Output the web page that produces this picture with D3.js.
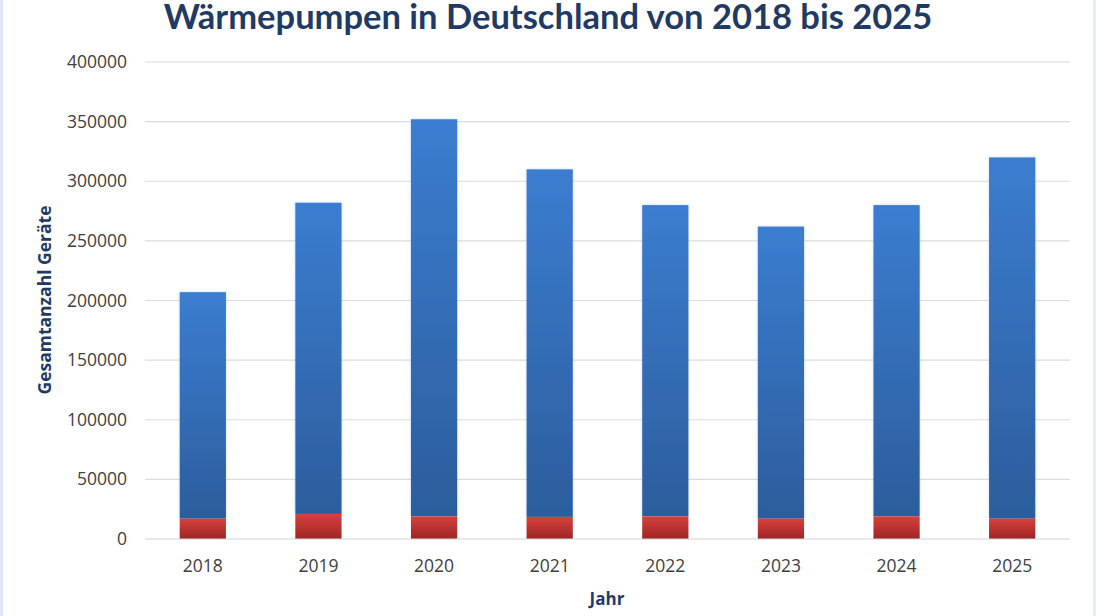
<!DOCTYPE html>
<html><head><meta charset="utf-8">
<script src="https://cdn.jsdelivr.net/npm/d3@7"></script>
<style>
html,body{margin:0;padding:0;background:#fff;}
svg{display:block;}
</style></head>
<body>
<script>
const years = ["2018","2019","2020","2021","2022","2023","2024","2025"];
const totals = [207000, 282000, 352000, 310000, 280000, 262000, 280000, 320000];
const lowerPart = [17000, 21000, 19000, 18500, 19000, 17000, 19000, 17000];
const yTicks = [0, 50000, 100000, 150000, 200000, 250000, 300000, 350000, 400000];
const titleText = "Wärmepumpen in Deutschland von 2018 bis 2025";
const yTitle = "Gesamtanzahl Geräte";
const xTitle = "Jahr";

const W = 1096, H = 616;
const svg = d3.select("body").append("svg").attr("width", W).attr("height", H);
const defs = svg.append("defs");
const gb = defs.append("linearGradient").attr("id","gBlue").attr("x1",0).attr("y1",0).attr("x2",0).attr("y2",1);
gb.append("stop").attr("offset","0%").attr("stop-color","#3b7dd0");
gb.append("stop").attr("offset","100%").attr("stop-color","#2c5d9c");
const gr = defs.append("linearGradient").attr("id","gRed").attr("x1",0).attr("y1",0).attr("x2",0).attr("y2",1);
gr.append("stop").attr("offset","0%").attr("stop-color","#d8403c");
gr.append("stop").attr("offset","100%").attr("stop-color","#9c2626");
const f = defs.append("filter").attr("id","glow").attr("x","-20%").attr("y","-20%").attr("width","140%").attr("height","140%");
f.append("feGaussianBlur").attr("in","SourceAlpha").attr("stdDeviation",1.5).attr("result","b");
f.append("feFlood").attr("flood-color","#9fc0ea").attr("flood-opacity",0.6);
f.append("feComposite").attr("in2","b").attr("operator","in").attr("result","s");
const fm = f.append("feMerge");
fm.append("feMergeNode").attr("in","s");
fm.append("feMergeNode").attr("in","SourceGraphic");

// frame edges
svg.append("rect").attr("x",0).attr("y",0).attr("width",3).attr("height",H).attr("fill","#dfe5f4");
svg.append("rect").attr("x",1093).attr("y",0).attr("width",3).attr("height",H).attr("fill","#e6eef0");

const x = d3.scaleBand().domain(years).range([145, 1070]).paddingInner(0.6).paddingOuter(0.3);
const y = d3.scaleLinear().domain([0, 400000]).range([539, 62]);

// gridlines
svg.append("g").selectAll("line").data(yTicks.filter(d => d > 0)).join("line")
  .attr("x1", 145).attr("x2", 1070)
  .attr("y1", d => y(d)).attr("y2", d => y(d))
  .attr("stroke", "#dcdcdc").attr("stroke-width", 1.2);

// y axis labels
const yAxis = d3.axisLeft(y).tickValues(yTicks).tickSize(0).tickPadding(0).tickFormat(d3.format("d"));
const gy = svg.append("g").attr("transform", "translate(127,0)").call(yAxis);
gy.select(".domain").remove();
gy.selectAll("text").attr("font-family","'Open Sans', sans-serif").attr("font-size", 17.5).attr("fill","#404040");

// bars
const bars = svg.append("g");
const stackData = years.map((yr, i) => ({ yr, total: totals[i], low: lowerPart[i] }));
bars.selectAll("rect.blue").data(stackData).join("rect").attr("class","blue")
  .attr("x", d => x(d.yr)).attr("width", x.bandwidth())
  .attr("y", d => y(d.total)).attr("height", d => y(d.low) - y(d.total))
  .attr("fill","url(#gBlue)").attr("filter","url(#glow)");
bars.selectAll("rect.red").data(stackData).join("rect").attr("class","red")
  .attr("x", d => x(d.yr)).attr("width", x.bandwidth())
  .attr("y", d => y(d.low)).attr("height", d => y(0) - y(d.low))
  .attr("fill","url(#gRed)");

// baseline
svg.append("line").attr("x1",145).attr("x2",1070).attr("y1",y(0)).attr("y2",y(0))
  .attr("stroke","#d0d4da").attr("stroke-width",1.2);

// x axis labels
const xAxis = d3.axisBottom(x).tickSize(0).tickPadding(0);
const gx = svg.append("g").attr("transform", `translate(0,${y(0)})`).call(xAxis);
gx.select(".domain").remove();
gx.selectAll("text").attr("font-family","'Open Sans', sans-serif").attr("font-size", 17.5).attr("fill","#404040")
  .attr("dy", null).attr("y", 33);

// titles
svg.append("text").attr("x", 548).attr("y", 29).attr("text-anchor","middle")
  .attr("font-family","Lato, 'Open Sans', sans-serif").attr("font-weight","bold").attr("font-size", 34.5)
  .attr("fill","#1f3a64").text(titleText);
svg.append("text").attr("transform","translate(51,300) rotate(-90)").attr("text-anchor","middle")
  .attr("font-family","'Open Sans', sans-serif").attr("font-weight","bold").attr("font-size", 17.5)
  .attr("fill","#1f3a64").text(yTitle);
svg.append("text").attr("x", 607).attr("y", 605).attr("text-anchor","middle")
  .attr("font-family","'Open Sans', sans-serif").attr("font-weight","bold").attr("font-size", 17)
  .attr("fill","#1f3a64").text(xTitle);
</script>
</body></html>
